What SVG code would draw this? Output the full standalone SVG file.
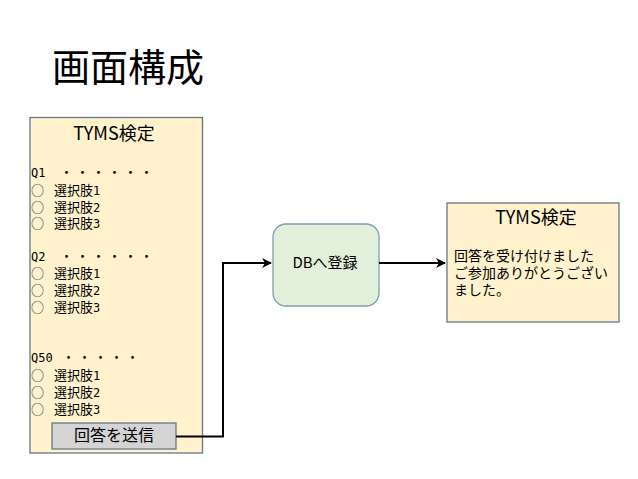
<svg xmlns="http://www.w3.org/2000/svg" width="638" height="479" viewBox="0 0 638 479">
  <defs>
    <marker id="arr" viewBox="0 0 10 10" refX="9" refY="5" markerWidth="5" markerHeight="5" orient="auto" markerUnits="strokeWidth">
      <path d="M0,0 L10,5 L0,10 L3,5 Z" fill="#000"/>
    </marker>
    <style>
      .panel { fill: #fff2cc; stroke: #66788a; stroke-width: 1.3; }
      .btn { fill: #d4d4d4; stroke: #66788a; stroke-width: 1.3; }
      .db { fill: #e2efda; stroke: #7f9db0; stroke-width: 1.3; }
      .jp { font-family: "Noto Sans CJK JP", "Liberation Sans", sans-serif; fill: #000; }
      .mono { font-family: "DejaVu Sans Mono", "Noto Sans CJK JP", monospace; fill: #000; font-size: 12px; }
      .opt { font-size: 13px; }
      .circ { font-size: 13px; fill: #333; }
      .conn { fill: none; stroke: #000; stroke-width: 2; }
    </style>
  </defs>
  <rect width="638" height="479" fill="#fff"/>

  <text class="jp" x="52" y="81" font-size="38">画面構成</text>

  <g id="form">
    <rect class="panel" x="30" y="117.5" width="172.5" height="335.5"/>
    <text class="jp" x="114" y="140" font-size="18" text-anchor="middle">TYMS検定</text>

    <text class="mono" x="31" y="177">Q1</text>
    <text class="jp opt" x="60 76 92 108 124 140" y="177">・・・・・・</text>
    <text class="jp circ" x="31" y="195">○</text><text class="jp opt" x="54" y="195">選択肢<tspan class="mono">1</tspan></text>
    <text class="jp circ" x="31" y="212">○</text><text class="jp opt" x="54" y="212">選択肢<tspan class="mono">2</tspan></text>
    <text class="jp circ" x="31" y="228">○</text><text class="jp opt" x="54" y="228">選択肢<tspan class="mono">3</tspan></text>

    <text class="mono" x="31" y="261">Q2</text>
    <text class="jp opt" x="60 76 92 108 124 140" y="261">・・・・・・</text>
    <text class="jp circ" x="31" y="278">○</text><text class="jp opt" x="54" y="278">選択肢<tspan class="mono">1</tspan></text>
    <text class="jp circ" x="31" y="295">○</text><text class="jp opt" x="54" y="295">選択肢<tspan class="mono">2</tspan></text>
    <text class="jp circ" x="31" y="312">○</text><text class="jp opt" x="54" y="312">選択肢<tspan class="mono">3</tspan></text>

    <text class="mono" x="31" y="362">Q50</text>
    <text class="jp opt" x="62 78 94 110 126" y="362">・・・・・</text>
    <text class="jp circ" x="31" y="380">○</text><text class="jp opt" x="54" y="380">選択肢<tspan class="mono">1</tspan></text>
    <text class="jp circ" x="31" y="397">○</text><text class="jp opt" x="54" y="397">選択肢<tspan class="mono">2</tspan></text>
    <text class="jp circ" x="31" y="414">○</text><text class="jp opt" x="54" y="414">選択肢<tspan class="mono">3</tspan></text>
  </g>

  <g id="submit">
    <rect class="btn" x="52" y="423" width="124" height="26"/>
    <text class="jp" x="114" y="441" font-size="16" text-anchor="middle">回答を送信</text>
  </g>

  <g id="db">
    <rect class="db" x="273" y="224" width="106" height="82" rx="13" ry="13"/>
    <text class="jp" x="325" y="268" font-size="15" text-anchor="middle">DBへ登録</text>
  </g>

  <g id="result">
    <rect class="panel" x="447" y="203" width="172" height="119"/>
    <text class="jp" x="536" y="224" font-size="18" text-anchor="middle">TYMS検定</text>
    <text class="jp" x="454" y="261" font-size="14">回答を受け付けました</text>
    <text class="jp" x="454" y="278" font-size="14">ご参加ありがとうござい</text>
    <text class="jp" x="454" y="295" font-size="14">ました。</text>
  </g>

  <g id="connectors">
    <path class="conn" d="M176,436.5 H223 V263 H271" marker-end="url(#arr)"/>
    <path class="conn" d="M379,263 H445" marker-end="url(#arr)"/>
  </g>
</svg>
